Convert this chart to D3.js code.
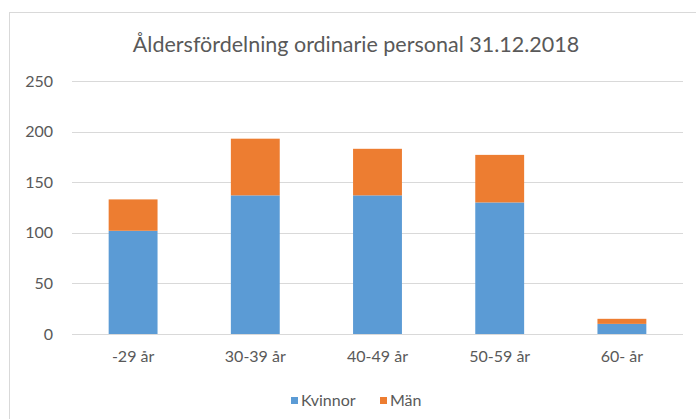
<!DOCTYPE html>
<html>
<head>
<meta charset="utf-8">
<script src="https://cdn.jsdelivr.net/npm/d3@7"></script>
<style>
  body { margin: 0; background: #fff; }
  svg text { font-family: Lato, "Open Sans", sans-serif; fill: #595959; }
</style>
</head>
<body>
<svg id="chart" width="696" height="419"></svg>
<script>
// age groups and head counts
var categories = ["-29 år", "30-39 år", "40-49 år", "50-59 år", "60- år"];
var kvinnor = [102, 137, 137, 130, 10];
var man = [31, 56, 46, 47, 5];
var seriesNames = ["Kvinnor", "Män"];
var seriesColors = ["#5B9BD5", "#ED7D31"];
var yTicks = [0, 50, 100, 150, 200, 250];

var svg = d3.select("#chart");

// chart frame (right/bottom edges fall outside the picture)
svg.append("rect")
    .attr("x", 9.5).attr("y", 12.5)
    .attr("width", 720).attr("height", 440)
    .attr("fill", "none")
    .attr("stroke", "#D9D9D9");

var rows = categories.map(function (c, i) {
    return {cat: c, Kvinnor: kvinnor[i], "Män": man[i]};
});

var x = d3.scaleBand()
    .domain(categories)
    .range([72, 683])
    .paddingInner(0.6)
    .paddingOuter(0.3);

var y = d3.scaleLinear()
    .domain([0, 250])
    .range([334, 81]);

// gridlines
svg.append("g").selectAll("line")
    .data(yTicks)
    .join("line")
    .attr("x1", 72).attr("x2", 683)
    .attr("y1", function (d) { return Math.round(y(d)) + 0.5; })
    .attr("y2", function (d) { return Math.round(y(d)) + 0.5; })
    .attr("stroke", "#D9D9D9")
    .attr("stroke-width", 1);

// y axis labels
var yAxis = svg.append("g")
    .attr("transform", "translate(53,0)")
    .call(d3.axisLeft(y).tickValues(yTicks).tickSize(0).tickPadding(0));
yAxis.select(".domain").remove();
yAxis.selectAll("text").attr("font-size", 16).style("font-family", "Lato, sans-serif").attr("fill", "#595959");

// stacked bars
var stack = d3.stack().keys(seriesNames);
var layers = stack(rows);

svg.append("g").selectAll("g")
    .data(layers)
    .join("g")
    .attr("fill", function (d, i) { return seriesColors[i]; })
    .selectAll("rect")
    .data(function (d) { return d; })
    .join("rect")
    .attr("x", function (d) { return x(d.data.cat); })
    .attr("width", x.bandwidth())
    .attr("y", function (d) { return y(d[1]); })
    .attr("height", function (d) { return y(d[0]) - y(d[1]); });

// x axis labels
var xAxis = svg.append("g")
    .attr("transform", "translate(0,351)")
    .call(d3.axisBottom(x).tickSize(0).tickPadding(0));
xAxis.select(".domain").remove();
xAxis.selectAll("text").attr("font-size", 16).style("font-family", "Lato, sans-serif").attr("fill", "#595959");

// title
svg.append("text")
    .attr("x", 356).attr("y", 52)
    .attr("text-anchor", "middle")
    .attr("font-size", 21.5)
    .text("Åldersfördelning ordinarie personal 31.12.2018");

// legend
var legend = svg.append("g").attr("transform", "translate(291,397)");
var lx = [0, 89];
seriesNames.forEach(function (name, i) {
    var g = legend.append("g").attr("transform", "translate(" + lx[i] + ",0)");
    g.append("rect").attr("width", 7).attr("height", 7).attr("fill", seriesColors[i]);
    g.append("text").attr("x", 10).attr("y", 9).attr("font-size", 16).text(name);
});
</script>
</body>
</html>
